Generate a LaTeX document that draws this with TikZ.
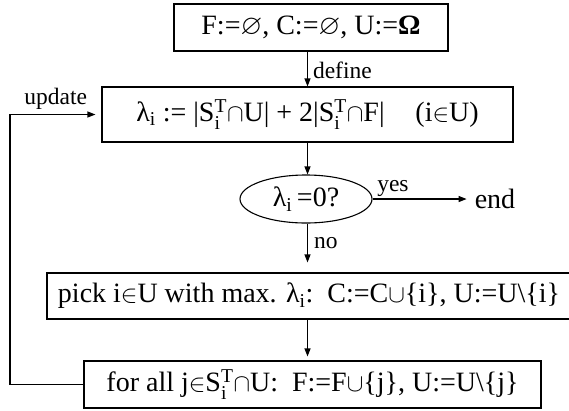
\documentclass[tikz,border=0pt]{standalone}
\usepackage{amssymb}
\usepackage{fontspec}
\setmainfont{Liberation Serif}
\usetikzlibrary{arrows.meta,shapes.geometric,calc}
\newcommand{\STi}{$\mathrm{S}^{\mathrm{T}}_{\mathrm{i}}$}
\newcommand{\lami}{λ$_{\mathrm{i}}$}
\begin{document}
\begin{tikzpicture}[x=1pt,y=-1pt,
  every node/.style={font=\fontsize{28}{32}\selectfont, inner sep=0pt},
  box/.style={draw, line width=1.1pt, rectangle},
  conn/.style={line width=1.1pt, -{Triangle[length=8pt,width=6pt]}},
  lab/.style={font=\fontsize{23.5}{27}\selectfont}]
\useasboundingbox (0,0) rectangle (569,410);
\node[box, minimum width=274pt, minimum height=47pt] (top) at (311,27.5)
  {F:=$\varnothing$, C:=$\varnothing$, U:=\textbf{Ω}};
\node[box, minimum width=411pt, minimum height=55pt] (lam) at (307.5,114.5)
  {\lami{} := |\STi$\cap$U| + 2|\STi$\cap$F|\hspace{1.1em}(i$\in$U)};
\node[draw, ellipse, line width=1.1pt, minimum width=132pt, minimum height=48pt] (ell) at (306,199)
  {\lami\,=0?};
\node (end) at (495,199) {end};
\node[box, minimum width=524pt, minimum height=46pt] (pick) at (309,296)
  {pick i$\in$U with max. \lami:\ \ C:=C$\cup$\{i\}, U:=U\textbackslash\{i\}};
\node[box, minimum width=457pt, minimum height=47pt] (forall) at (312.5,384.5)
  {for all j$\in$\STi$\cap$U:\ \ F:=F$\cup$\{j\}, U:=U\textbackslash\{j\}};
\coordinate (ax) at (307.5,0);
\coordinate (lx) at (10,0);
\draw[conn] (top.south -| ax) -- node[right=5pt, lab, pos=0.55] (define) {define} (lam.north -| ax);
\draw[conn] (lam.south -| ax) -- (ell.north -| ax);
\draw[conn, shorten >=10pt] (ell.south -| ax) -- node[right=6pt, lab, pos=0.4] (no) {no} (pick.north -| ax);
\draw[conn, shorten >=4pt] (pick.south -| ax) -- (forall.north -| ax);
\draw[conn, shorten >=8pt] (ell.east) -- node[above=2pt, lab, pos=0.2] (yes) {yes} (end.west);
\draw[conn, shorten >=6pt] (forall.west) -- (forall.west -| lx) -- (lam.west -| lx)
  -- node[above=4pt, lab, pos=0.5] (upd) {update} (lam.west);
\end{tikzpicture}
\end{document}
